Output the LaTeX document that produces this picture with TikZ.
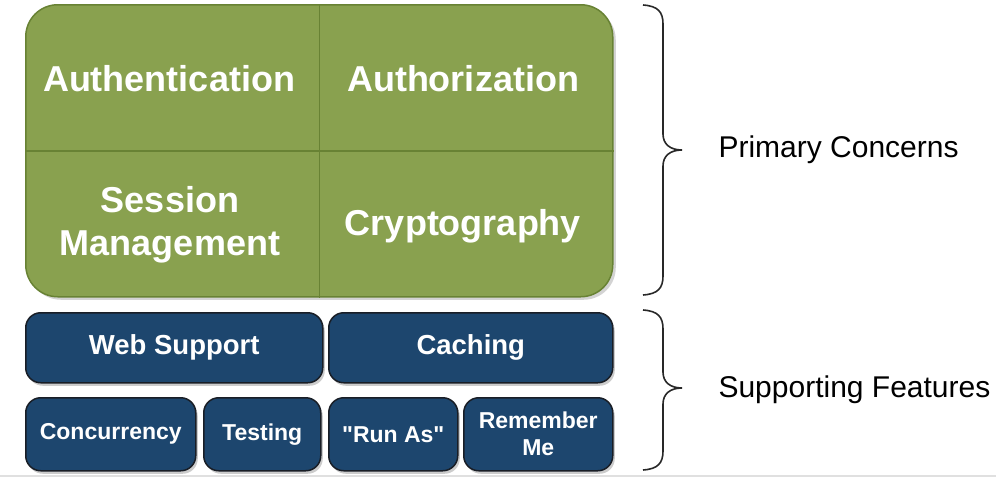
\documentclass[tikz,border=0pt]{standalone}
\usepackage{fontspec}
\setmainfont{Liberation Sans}
\usetikzlibrary{shadows}

\definecolor{coregreen}{RGB}{137,161,79}
\definecolor{coreline}{RGB}{104,130,52}
\definecolor{featblue}{RGB}{29,70,110}
\definecolor{featline}{RGB}{25,30,38}
\definecolor{bracegray}{RGB}{40,40,40}

\begin{document}
\begin{tikzpicture}[x=1pt,y=-1pt]
	\tikzset{core/.style={draw=coreline,line width=1.5pt,fill=coregreen,rounded corners=32pt,anchor=north west,inner sep=0pt,drop shadow={shadow xshift=3pt,shadow yshift=-3pt,opacity=.35}}}
	\tikzset{corelabel/.style={text=white,font=\fontsize{36}{43}\selectfont\bfseries,align=center}}
	\tikzset{feature/.style={draw=featline,line width=1.5pt,fill=featblue,rounded corners=15pt,anchor=north west,inner sep=0pt,text=white,align=center,drop shadow={shadow xshift=2pt,shadow yshift=-3pt,opacity=.4}}}
	\tikzset{bigfeature/.style={feature,font=\fontsize{27.5}{32}\selectfont\bfseries}}
	\tikzset{smallfeature/.style={feature,font=\fontsize{23}{27}\selectfont\bfseries}}
	\tikzset{concern/.style={anchor=base west,font=\fontsize{30}{36}\selectfont}}
	\tikzset{curly/.style={draw=bracegray,line width=1.6pt}}

	\useasboundingbox (0,0) rectangle (996,479);
	\draw[black!12,line width=2pt] (0,476) -- (996,476);

	    \node[core,minimum width=587,minimum height=292] (core) at (25,4) {};
	    \draw[coreline,line width=1.5pt] (core.north) -- (core.south);
	    \draw[coreline,line width=1.5pt] (core.west) -- (core.east);

	    \node[corelabel] (authn) at (169,79) {Authentication};
	    \node[corelabel] (authz) at (463,79) {Authorization};
	    \node[corelabel] (session) at (170,225) {Session\\Management};
	    \node[corelabel] (crypto) at (463,226) {Cryptography};


	    \node[bigfeature,minimum width=297,minimum height=70] (web) at (25,312) {Web Support};
	    \node[bigfeature,minimum width=284,minimum height=70] (cache) at (328,312) {Caching};
	    \node[smallfeature,minimum width=170,minimum height=73] (conc) at (25,397) {Concurrency};
	    \node[smallfeature,minimum width=117,minimum height=73] (test) at (203,397) {Testing};
	    \node[smallfeature,minimum width=129,minimum height=73] (runas) at (328,397) {\textquotedbl Run As\textquotedbl};
	    \node[smallfeature,minimum width=149,minimum height=73] (remember) at (463,397) {Remember\\Me};


	    \draw[curly] (643,5) .. controls (658,6) and (663,12) .. (663,24) -- (663,134)
	        .. controls (663,144) and (670,150) .. (682,150)
	        .. controls (670,150) and (663,156) .. (663,166) -- (663,276)
	        .. controls (663,288) and (658,294) .. (643,295);
	    \node[concern] (primary) at (715,157) {Primary Concerns};

	    \draw[curly] (643,310) .. controls (658,311) and (663,317) .. (663,329) -- (663,372)
	        .. controls (663,382) and (670,388) .. (682,388)
	        .. controls (670,388) and (663,394) .. (663,404) -- (663,451)
	        .. controls (663,463) and (658,469) .. (643,470);
	    \node[concern] (support) at (715,397) {Supporting Features};

\end{tikzpicture}
\end{document}
